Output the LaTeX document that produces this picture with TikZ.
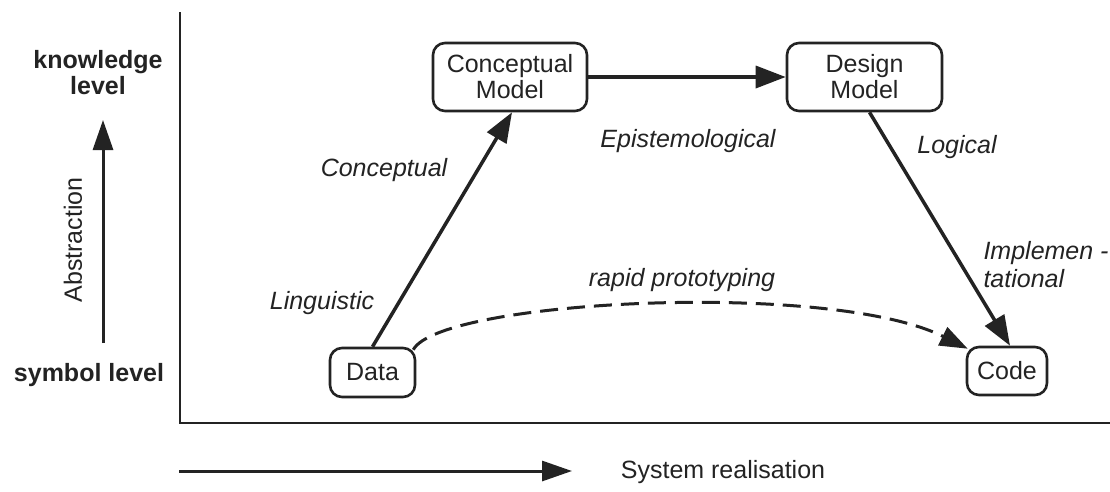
\documentclass[tikz,border=0pt]{standalone}
\usepackage{fontspec}
\setmainfont{Liberation Sans}
\usetikzlibrary{arrows.meta}
\definecolor{ink}{RGB}{35,35,35}
\begin{document}
\begin{tikzpicture}[x=1pt,y=-1pt,
  every node/.style={text=ink, font=\fontsize{25}{28}\selectfont},
  box/.style={draw=ink, line width=2.6pt, rounded corners=12pt, align=center, inner sep=0pt},
  lab/.style={font=\fontsize{25}{28}\selectfont\itshape},
  side/.style={font=\fontsize{25}{26}\selectfont\bfseries, align=center},
  bigarrow/.style={draw=ink, line width=3.5pt, -{Triangle[length=30pt,width=22pt]}},
  dasharrow/.style={draw=ink, line width=3pt, dash pattern=on 18pt off 9pt, -{Triangle[length=28pt,width=20pt]}},
  axis/.style={draw=ink, line width=2.4pt}]
\useasboundingbox (0,0) rectangle (1110,491);
\fill[white] (0,0) rectangle (1110,491);

% boxes
\node[box, minimum width=154pt, minimum height=68pt] (cm) at (510,77) {Conceptual\\[-2pt]Model};
\node[box, minimum width=155pt, minimum height=68pt] (dm) at (864.5,77) {Design\\[-2pt]Model};
\node[box, minimum width=85pt, minimum height=49pt] (data) at (372.5,372.5) {Data};
\node[box, minimum width=80pt, minimum height=48pt] (code) at (1007,371) {Code};

% axes
\coordinate (ytop) at (180,12);
\coordinate (origin) at (180,423);
\coordinate (xend) at (1110,423);
\draw[axis] (ytop) -- (origin) -- (xend);

% abstraction arrow
\coordinate (abot) at (103,343);
\coordinate (atop) at (103,120);
\draw[bigarrow, line width=3pt, -{Triangle[length=30pt,width=20pt]}] (abot) -- (atop);
\node[side] (know) at (98,73) {knowledge\\level};
\node[side] (sym) at (89,375) {symbol level};
\node[rotate=90] (abst) at (73,240) {Abstraction};

% system realisation arrow
\coordinate (sleft) at (179,471);
\coordinate (sright) at (572,471);
\draw[bigarrow, line width=3pt, -{Triangle[length=30pt,width=20pt]}] (sleft) -- (sright);
\node (sysr) at (723,472) {System realisation};

% connectors
\draw[bigarrow] (data.north) -- ([xshift=2pt]cm.south);
\draw[bigarrow] (cm.east) -- (dm.west);
\draw[bigarrow] ([xshift=5pt]dm.south) -- ([xshift=3pt]code.north);
\draw[dasharrow] ([xshift=-3pt,yshift=-3pt]data.north east) .. controls (440,300) and (830,280) .. ([xshift=2pt,yshift=-3pt]code.north west);

% labels
\node[lab] (lconc) at (384,170) {Conceptual};
\node[lab] (lepi) at (688,141) {Epistemological};
\node[lab] (llog) at (957,147) {Logical};
\node[lab, align=left, anchor=west] (limp) at (980,265) {Implemen -\\tational};
\node[lab] (lrap) at (682,280) {rapid prototyping};
\node[lab] (lling) at (322,303) {Linguistic};
\end{tikzpicture}
\end{document}
